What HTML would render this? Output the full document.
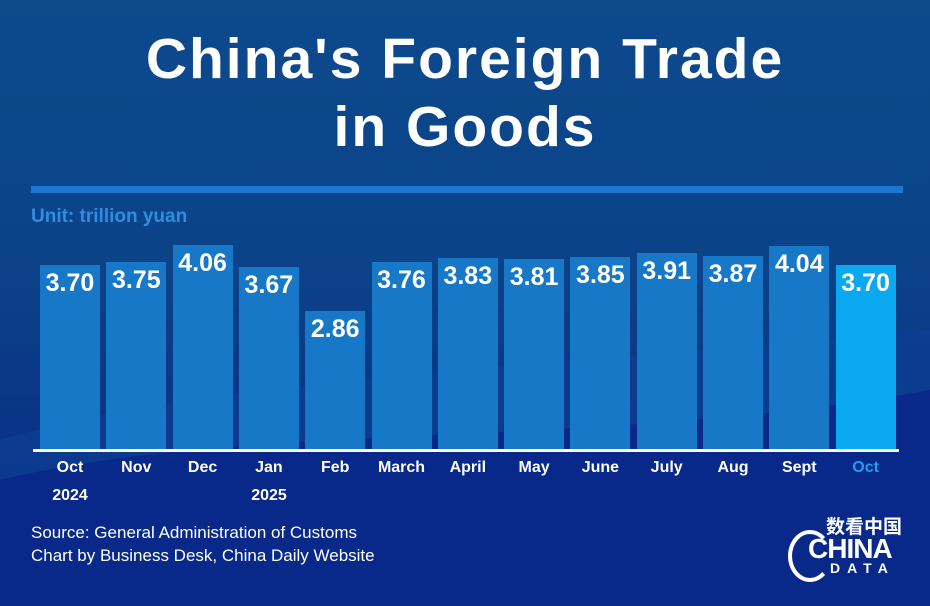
<!DOCTYPE html>
<html><head><meta charset="utf-8"><style>
body{margin:0;width:930px;height:606px;overflow:hidden;font-family:"Liberation Sans","Noto Sans CJK SC",sans-serif}
#c{position:relative;width:930px;height:606px;background:linear-gradient(180deg,#0c4a8c 0%,#0b4288 45%,#0a3486 70%,#082a84 100%);overflow:hidden}
.t{position:absolute;left:0;width:930px;text-align:center;color:#fff;font-weight:bold;font-size:57px;letter-spacing:2px}
.bar{position:absolute;background:#1878c8;width:60px}
.v{position:absolute;width:70px;text-align:center;color:#fff;font-size:25px;font-weight:bold}
.l{position:absolute;width:70px;text-align:center;color:#fff;font-size:16px;font-weight:bold;top:459px}
</style></head><body><div id="c">
<svg style="position:absolute;left:0;top:0" width="930" height="606">
<path d="M0 440 C200 380 500 370 930 330 L930 606 L0 606Z" fill="#0b3f95" opacity="0.6"/>
<path d="M0 480 C250 420 600 450 930 390 L930 606 L0 606Z" fill="#08288a"/>
</svg>
<div class="t" style="top:26px">China's Foreign Trade</div>
<div class="t" style="top:94px">in Goods</div>
<div style="position:absolute;left:31px;top:186px;width:872px;height:7px;background:#1a78d2"></div>
<div style="position:absolute;left:31px;top:206px;color:#2e8ee0;font-weight:bold;font-size:19px">Unit: trillion yuan</div>
<div id="bars"></div>
<div style="position:absolute;left:33px;top:449px;width:866px;height:3px;background:#fff"></div>
<div style="position:absolute;left:31px;top:521px;color:#fff;font-size:17px;line-height:23px">Source: General Administration of Customs<br>Chart by Business Desk, China Daily Website</div>
<div style="position:absolute;left:826px;top:512px;color:#fff;font-weight:bold;font-size:19px">数看中国</div>
<div style="position:absolute;left:808px;top:533px;color:#fff;font-weight:bold;font-size:28px;letter-spacing:-1px">CHINA</div>
<div style="position:absolute;left:830px;top:560px;color:#fff;font-weight:bold;font-size:14px;letter-spacing:7px">DATA</div>
<div style="position:absolute;left:788px;top:530px;width:36px;height:44px;border:4px solid #fff;border-right-color:transparent;border-radius:50%"></div>
</div>
<script>
(function(){
var v=[3.70,3.75,4.06,3.67,2.86,3.76,3.83,3.81,3.85,3.91,3.87,4.04,3.70];
var m=["Oct","Nov","Dec","Jan","Feb","March","April","May","June","July","Aug","Sept","Oct"];
var h="";
for(var i=0;i<13;i++){var x=40+i*66.3;var ty=Math.round(265-(v[i]-3.70)*55);
h+='<div class="bar" style="left:'+x+'px;top:'+ty+'px;height:'+(450-ty)+'px;'+(i==12?'background:#0aa8f0':'')+'"></div>';
h+='<div class="v" style="left:'+(x-5)+'px;top:'+(ty+4)+'px">'+v[i].toFixed(2)+'</div>';
h+='<div class="l" style="left:'+(x-5)+'px;'+(i==12?'color:#1ea0ee':'')+'">'+m[i]+'</div>';}
h+='<div class="l" style="left:35px;top:487px">2024</div><div class="l" style="left:234px;top:487px">2025</div>';
document.getElementById("bars").innerHTML=h;
})();
</script>
</body></html>
